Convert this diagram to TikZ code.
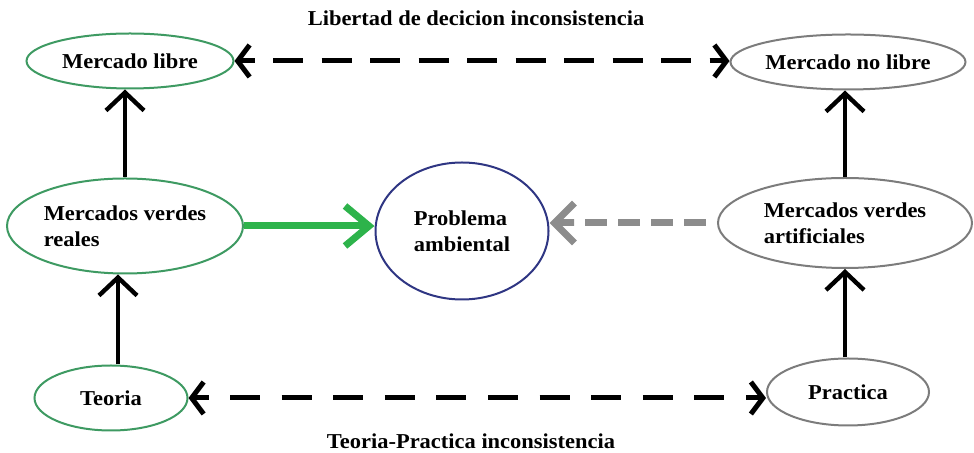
\documentclass[tikz,border=0pt]{standalone}
\usepackage{fontspec}
\setmainfont{Liberation Serif}[FakeStretch=1.06]
\usepackage{xcolor}
\usetikzlibrary{shapes.geometric,arrows.meta,decorations,calc}

\definecolor{bordeverde}{HTML}{3E9A62}
\definecolor{bordegris}{HTML}{7C7C7C}
\definecolor{flechaverde}{HTML}{2DB34B}
\definecolor{flechagris}{HTML}{8C8C8C}
\definecolor{azul}{HTML}{2F3683}

\begin{document}
\begin{tikzpicture}[x=0.5pt,y=-0.5pt,font=\fontsize{10.6}{13}\selectfont\bfseries]

	\tikzstyle{real}=[ellipse,draw=bordeverde,line width=1pt,inner sep=0pt,align=left]
	\tikzstyle{artificial}=[ellipse,draw=bordegris,line width=1pt,inner sep=0pt,align=left]
	\tikzstyle{problema}=[ellipse,draw=azul,line width=1pt,inner sep=0pt,align=left]
	\tikzstyle{discontinua}=[line width=2.5pt,dash pattern=on 15pt off 9pt,dash expand off]
	\tikzstyle{punta}=[line width=2.5pt,-{Straight Barb[length=6pt,width=16pt]}]
	\tikzstyle{paso}=[line width=2.2pt,-{Straight Barb[length=9pt,width=19pt]}]

	\useasboundingbox (0,0) rectangle (974,453);

	% nodos
	\node[real,minimum width=103.5pt,minimum height=27.5pt] (libre) at (130,61) {Mercado libre};
	\node[artificial,minimum width=117.5pt,minimum height=27.5pt] (nolibre) at (848,62) {Mercado no libre};
	\node[real,minimum width=118pt,minimum height=47.5pt] (reales) at (125,226) {Mercados verdes\\reales};
	\node[problema,minimum width=86.5pt,minimum height=68.5pt] (problema) at (462,231) {Problema\\ambiental};
	\node[artificial,minimum width=127pt,minimum height=45pt] (artificiales) at (845,223) {Mercados verdes\\artificiales};
	\node[real,minimum width=76.5pt,minimum height=32.5pt] (teoria) at (111,398) {Teoria};
	\node[artificial,minimum width=81pt,minimum height=33.5pt] (practica) at (848,392) {Practica};

	\node (libertad) at (476,18) {Libertad de decicion inconsistencia};
	\node (teopra) at (471,441) {Teoria-Practica inconsistencia};

	% flechas discontinuas (linea y puntas aparte)
	\coordinate (li) at ($(libre.east)+(10pt,0)$);
	\coordinate (ld) at ($(nolibre.west |- libre.east)+(-10pt,0)$);
	\draw[discontinua] (li) -- (ld);
	\draw[punta] (li) -- (libre.east);
	\draw[punta] (ld) -- (nolibre.west |- libre.east);
	\coordinate (ti) at ($(teoria.east)+(10pt,0)$);
	\coordinate (td) at ($(practica.west |- teoria.east)+(-10pt,0)$);
	\draw[discontinua] (ti) -- (td);
	\draw[punta] (ti) -- (teoria.east);
	\draw[punta] (td) -- (practica.west |- teoria.east);

	\draw[paso] (reales.north) -- (libre.south -| reales.north);
	\draw[paso] (teoria.north -| 118,0) -- (reales.south -| 118,0);
	\draw[paso] (artificiales.north) -- (nolibre.south -| artificiales.north);
	\draw[paso] (practica.north -| artificiales.south) -- (artificiales.south);
	\draw[flechaverde,line width=3.5pt,-{Straight Barb[length=12pt,width=20pt]}] (reales.east) -- (problema.west |- reales.east);
	\coordinate (gi) at ($(problema.east |- artificiales.west)+(12pt,0)$);
	\draw[flechagris,line width=3.5pt,dash pattern=on 11pt off 5pt,dash expand off] (artificiales.west) -- (gi);
	\draw[flechagris,line width=3.5pt,-{Straight Barb[length=10pt,width=20pt]}] (gi) -- (problema.east |- artificiales.west);

\end{tikzpicture}
\end{document}
